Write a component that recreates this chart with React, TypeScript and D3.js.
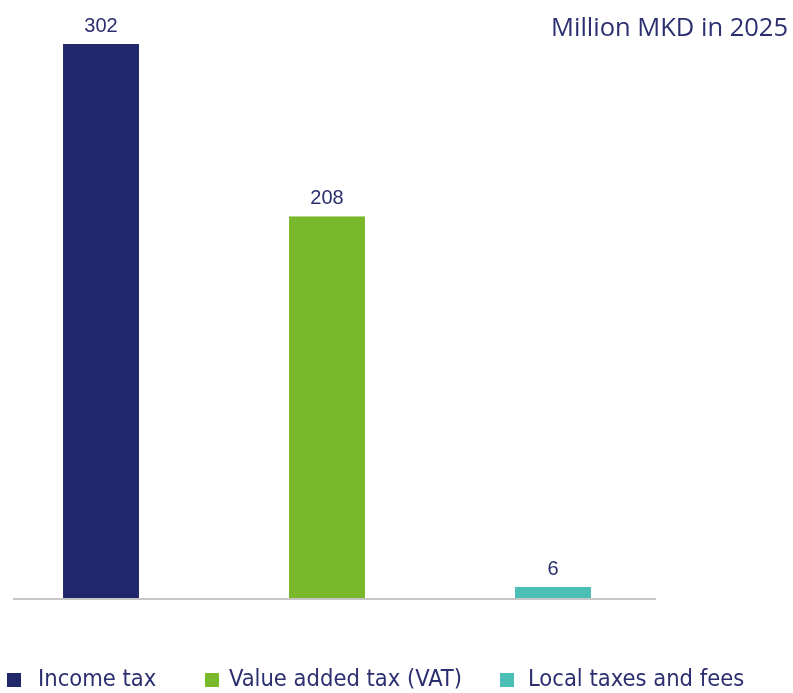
import { useEffect, useRef } from 'react';
import * as d3 from 'd3';

const categories = ['Income tax', 'Value added tax (VAT)', 'Local taxes and fees'];
const values = [302, 208, 6];
const colors = ['#20286b', '#78b82a', '#4bbfb5'];
const title = 'Million MKD in 2025';

const width = 793;
const height = 693;
const baseline = 598;
const textColor = '#2b2f6f';

const App = () => {
    const svgRef = useRef<SVGSVGElement>(null);

    useEffect(() => {
        const svg = d3.select(svgRef.current);
        svg.selectAll('*').remove();

        const x = d3
            .scaleBand()
            .domain(categories)
            .range([-12, 666])
            .paddingInner(0.664)
            .paddingOuter(0.332);

        const y = d3.scaleLinear().domain([0, 302]).range([baseline, 44]);

        // Bars
        svg.selectAll('rect.bar')
            .data(categories)
            .join('rect')
            .attr('class', 'bar')
            .attr('x', d => x(d) ?? 0)
            .attr('y', (_d, i) => y(values[i]))
            .attr('width', x.bandwidth())
            .attr('height', (_d, i) => y(0) - y(values[i]))
            .attr('fill', (_d, i) => colors[i]);

        // Value labels
        svg.selectAll('text.value')
            .data(categories)
            .join('text')
            .attr('class', 'value')
            .attr('x', d => (x(d) ?? 0) + x.bandwidth() / 2)
            .attr('y', (_d, i) => y(values[i]) - 12)
            .attr('text-anchor', 'middle')
            .attr('fill', textColor)
            .style('font-family', 'Liberation Sans, Arial, sans-serif')
            .style('font-size', '20px')
            .text((_d, i) => values[i]);

        // Baseline
        svg.append('line')
            .attr('x1', 13)
            .attr('x2', 656)
            .attr('y1', baseline + 1)
            .attr('y2', baseline + 1)
            .attr('stroke', '#c6c6c6')
            .attr('stroke-width', 2);

        // Title
        svg.append('text')
            .attr('x', 788)
            .attr('y', 36)
            .attr('text-anchor', 'end')
            .attr('fill', textColor)
            .style('font-family', 'Open Sans, sans-serif')
            .style('font-size', '25.5px')
            .text(title);

        // Legend
        const swatchX = [7, 205, 500];
        const labelX = [38, 229, 528];
        const legend = svg
            .selectAll('g.legend')
            .data(categories)
            .join('g')
            .attr('class', 'legend');

        legend
            .append('rect')
            .attr('x', (_d, i) => swatchX[i])
            .attr('y', 673)
            .attr('width', 14)
            .attr('height', 14)
            .attr('fill', (_d, i) => colors[i]);

        legend
            .append('text')
            .attr('x', (_d, i) => labelX[i])
            .attr('y', 686)
            .attr('fill', textColor)
            .style('font-family', 'Liberation Sans Narrow, DejaVu Sans Condensed, sans-serif')
            .style('font-size', '23.5px')
            .text(d => d);
    }, []);

    return (
        <div style={{ position: 'fixed', left: 0, top: 0, width, height, overflow: 'hidden' }}>
            <svg ref={svgRef} width={width} height={height} style={{ display: 'block' }}></svg>
        </div>
    );
};

export default App;
